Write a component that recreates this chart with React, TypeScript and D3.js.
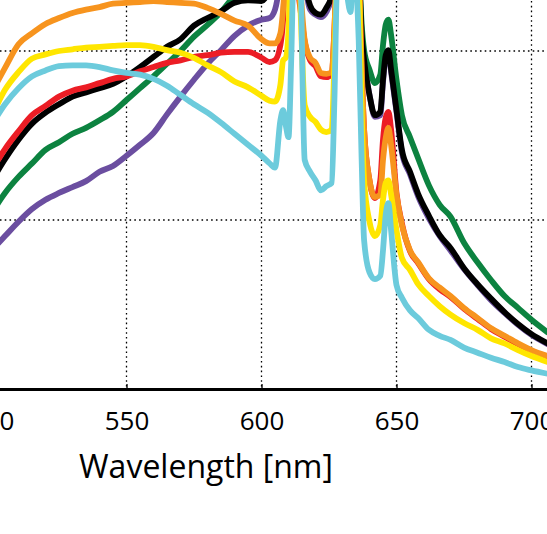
import { useRef, useEffect } from 'react';
import * as d3 from 'd3';

// wavelength grid [nm] shared by every spectrum
const wavelengths = [
    500, 505, 510, 515, 520, 525, 530, 535, 540, 545, 550, 555, 560, 565, 570, 575, 580, 585, 590, 595,
    600, 603, 605, 607, 608, 609, 610, 611, 612, 614, 616, 618, 620, 622, 624, 626, 627, 628, 630, 632,
    633, 634, 636, 637, 638, 640, 642, 644, 645, 646, 647, 648, 650, 652, 655, 658, 662, 666, 670, 675,
    680, 685, 690, 695, 700, 706,
];

// relative intensity of each spectrum (same order as wavelengths)
const purple = [
    16.4, 18.1, 19.8, 21.3, 22.4, 23.2, 23.9, 24.6, 25.7, 26.4, 27.6, 28.9, 30.3, 32.5, 34.6, 36.6, 38.5, 40.1, 41.8, 43.0,
    43.7, 43.9, 44.9, 49.6, 55.5, 55.5, 55.5, 55.5, 55.5, 55.5, 48.4, 44.9, 44.3, 44.0, 44.6, 46.6, 49.6, 60.2, 63.8, 60.2,
    59.1, 62.6, 50.8, 42.5, 38.9, 34.8, 32.2, 32.4, 36.3, 39.3, 39.9, 37.5, 32.8, 28.0, 25.4, 22.8, 20.2, 18.1, 16.4, 14.2,
    12.3, 10.5, 9.0, 7.6, 6.4, 5.3,
];
const green = [
    20.8, 23.2, 25.1, 26.7, 28.3, 29.2, 30.2, 30.9, 31.8, 32.8, 34.2, 35.6, 37.0, 38.5, 40.0, 41.7, 43.1, 44.6, 46.6, 48.4,
    49.6, 50.8, 52.0, 53.1, 56.7, 56.7, 56.7, 56.7, 56.7, 56.7, 52.0, 49.6, 49.0, 49.0, 49.6, 50.8, 53.1, 63.8, 67.3, 63.8,
    62.6, 66.2, 50.8, 43.7, 40.1, 37.8, 36.2, 37.2, 40.7, 43.1, 43.7, 41.9, 36.6, 32.4, 29.8, 27.3, 24.1, 21.8, 20.4, 17.3,
    15.0, 12.9, 11.0, 9.6, 8.2, 6.7,
];
const black = [
    24.6, 27.2, 29.5, 31.4, 32.7, 33.7, 34.6, 35.1, 35.6, 36.1, 37.0, 38.1, 39.3, 40.5, 41.4, 43.0, 43.9, 44.7, 45.7, 46.0,
    45.9, 47.2, 48.4, 50.8, 55.5, 55.5, 55.5, 55.5, 55.5, 55.5, 48.4, 45.4, 44.5, 44.3, 45.1, 46.6, 49.6, 60.2, 63.8, 60.2,
    59.1, 62.6, 50.8, 42.5, 38.9, 34.8, 32.4, 32.8, 36.6, 39.5, 40.1, 37.8, 33.0, 28.3, 25.7, 23.1, 20.5, 18.2, 16.7, 14.3,
    12.4, 10.7, 9.1, 7.7, 6.5, 5.4,
];
const red = [
    25.8, 28.4, 30.5, 32.4, 33.5, 34.6, 35.3, 35.7, 36.2, 36.7, 37.0, 37.6, 38.1, 38.6, 38.9, 39.3, 39.5, 39.8, 39.9, 39.9,
    39.2, 38.7, 38.9, 40.7, 43.7, 50.8, 53.1, 53.1, 50.8, 46.0, 41.1, 38.9, 38.2, 37.0, 36.9, 37.3, 42.5, 50.8, 63.8, 60.2,
    59.1, 62.6, 49.6, 38.9, 30.7, 24.7, 22.6, 24.7, 29.5, 32.1, 32.8, 30.7, 23.2, 19.6, 16.3, 14.9, 13.0, 11.8, 10.9, 9.5,
    8.3, 7.1, 6.2, 5.3, 4.5, 3.8,
];
const orange = [
    35.1, 38.0, 40.8, 42.1, 43.2, 43.9, 44.5, 44.9, 45.2, 45.6, 45.7, 45.8, 45.9, 45.8, 45.7, 45.6, 45.1, 44.4, 43.6, 43.0,
    41.4, 40.9, 40.9, 42.1, 44.9, 49.6, 55.5, 55.5, 50.8, 48.4, 41.3, 39.2, 38.6, 37.4, 37.3, 37.5, 42.5, 50.8, 63.8, 60.2,
    59.1, 62.6, 49.6, 38.9, 30.7, 24.7, 22.7, 23.0, 27.1, 29.7, 30.9, 28.9, 23.0, 19.4, 16.4, 15.0, 13.1, 12.0, 11.0, 9.6,
    8.4, 7.2, 6.3, 5.4, 4.6, 3.9,
];
const yellow = [
    32.2, 35.4, 37.5, 39.1, 39.6, 40.0, 40.2, 40.4, 40.5, 40.6, 40.7, 40.7, 40.5, 40.1, 39.8, 39.2, 38.3, 37.5, 36.4, 35.7,
    34.7, 34.1, 34.0, 36.0, 38.9, 39.2, 42.5, 53.1, 55.5, 48.4, 33.6, 32.2, 31.6, 30.7, 30.4, 30.7, 38.9, 50.8, 63.8, 60.2,
    59.1, 62.6, 49.6, 34.2, 24.7, 19.8, 18.1, 19.4, 22.4, 24.4, 24.7, 23.0, 18.8, 15.5, 14.1, 12.4, 11.0, 9.8, 8.8, 7.8,
    7.0, 6.0, 5.4, 4.6, 3.9, 3.2,
];
const cyan = [
    31.2, 33.7, 35.6, 37.0, 37.7, 38.2, 38.3, 38.3, 38.1, 37.7, 37.4, 37.2, 36.7, 35.9, 34.8, 33.7, 32.7, 31.5, 30.2, 28.9,
    27.6, 26.7, 26.2, 31.8, 33.0, 31.2, 29.8, 38.9, 50.8, 53.1, 27.1, 25.7, 24.7, 23.5, 24.0, 24.4, 34.2, 48.4, 53.1, 46.0,
    44.6, 50.8, 41.3, 28.3, 17.6, 13.8, 13.0, 13.4, 16.4, 20.6, 22.0, 18.8, 12.3, 10.8, 9.3, 8.4, 7.0, 6.3, 5.8, 4.9,
    4.3, 3.7, 3.2, 2.6, 2.2, 1.8,
];

const series = [
    { name: 'purple', color: '#6b4ea0', values: purple },
    { name: 'green', color: '#0c8340', values: green },
    { name: 'black', color: '#000000', values: black },
    { name: 'red', color: '#ec1d25', values: red },
    { name: 'orange', color: '#f7941e', values: orange },
    { name: 'yellow', color: '#ffe600', values: yellow },
    { name: 'cyan', color: '#6ccbdc', values: cyan },
];

const x_ticks = [500, 550, 600, 650, 700];
const y_grid = [20, 40, 60];

export default function App() {
    const ref = useRef(null);

    useEffect(() => {
        const svg_width = 547;
        const svg_height = 534;
        const font = "'Open Sans', 'Noto Sans', sans-serif";

        const svg = d3.select(ref.current)
            .append("svg")
                .attr("width", svg_width)
                .attr("height", svg_height)
                .style("position", "absolute")
                .style("left", "0px")
                .style("top", "0px")
                .style("background", "white");

        // plot area runs past the visible frame on the left and top
        const x = d3.scaleLinear()
            .domain([480, 720])
            .range([126.5 - 70 * 2.7, 126.5 + 170 * 2.7]);

        const y = d3.scaleLinear()
            .domain([0, 40])
            .range([389, 51]);

        const grid = svg.append("g");
        grid.selectAll("line.vx")
            .data(x_ticks)
            .enter()
            .append("line")
                .attr("x1", (d) => x(d))
                .attr("x2", (d) => x(d))
                .attr("y1", y(80))
                .attr("y2", y(0))
                .attr("stroke", "black")
                .attr("stroke-width", 1.3)
                .attr("stroke-dasharray", "1.6,3.2");
        grid.selectAll("line.hy")
            .data(y_grid)
            .enter()
            .append("line")
                .attr("x1", x(480))
                .attr("x2", x(720))
                .attr("y1", (d) => y(d))
                .attr("y2", (d) => y(d))
                .attr("stroke", "black")
                .attr("stroke-width", 1.3)
                .attr("stroke-dasharray", "1.6,3.2");

        const line = d3.line<number>()
            .x((_, i) => x(wavelengths[i]))
            .y((d) => y(d))
            .curve(d3.curveMonotoneX);

        svg.append("g").selectAll("path")
            .data(series)
            .enter()
            .append("path")
                .attr("d", (d) => line(d.values))
                .attr("fill", "none")
                .attr("stroke", (d) => d.color)
                .attr("stroke-width", 5.8)
                .attr("stroke-linejoin", "round")
                .attr("stroke-linecap", "round");

        const axis = svg.append("g")
            .attr("transform", `translate(0, ${y(0)})`)
            .call(d3.axisBottom(x)
                .tickValues(x_ticks)
                .tickFormat(d3.format("d"))
                .tickSizeInner(-5)
                .tickSizeOuter(0)
                .tickPadding(22.5));
        axis.select(".domain")
            .attr("stroke", "black")
            .attr("stroke-width", 3);
        axis.selectAll(".tick line")
            .attr("stroke", "black")
            .attr("stroke-width", 1.3);
        axis.selectAll(".tick text")
            .style("font-family", font)
            .style("font-size", "26px")
            .attr("fill", "black");

        svg.append("text")
            .attr("x", 206)
            .attr("y", 478)
            .style("font-family", font)
            .style("font-size", "32px")
            .attr("fill", "black")
            .style("text-anchor", "middle")
            .text("Wavelength [nm]");

        return () => {
            d3.select(ref.current).selectAll("*").remove();
        };
    }, [ref]);

    return (
        <div ref={ref} />
    );
}
